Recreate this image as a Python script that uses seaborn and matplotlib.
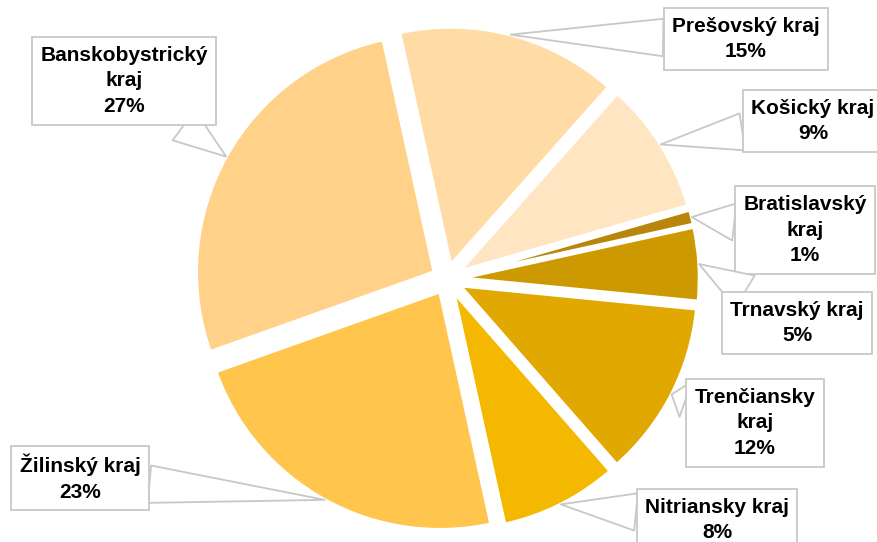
import matplotlib
matplotlib.use("Agg")
import matplotlib.pyplot as plt
import seaborn as sns
import numpy as np

# ---- data ----
regions = ["Bratislavský kraj", "Trnavský kraj", "Trenčiansky kraj", "Nitriansky kraj",
           "Žilinský kraj", "Banskobystrický kraj", "Prešovský kraj", "Košický kraj"]
shares = [1, 5, 12, 8, 23, 27, 15, 9]
label_texts = ["Bratislavský\nkraj\n1%", "Trnavský kraj\n5%", "Trenčiansky\nkraj\n12%",
               "Nitriansky kraj\n8%", "Žilinský kraj\n23%", "Banskobystrický\nkraj\n27%",
               "Prešovský kraj\n15%", "Košický kraj\n9%"]
colors = ["#B8860B", "#CC9A00", "#E0A800", "#F5B800",
          "#FFC54D", "#FFD189", "#FFDCA5", "#FFE5C2"]

# ---- layout (pixel coordinates of the label boxes, image y measured from top) ----
W, H = 877, 542
label_pos = [(805, 230), (797, 323), (755, 423), (717, 520),
             (80, 478), (124, 81), (746, 39), (813, 121)]

sns.set_theme(style="white")
plt.rcParams["font.family"] = ["Liberation Sans", "DejaVu Sans"]

fig = plt.figure(figsize=(W / 100, H / 100), dpi=100)
ax = fig.add_axes([0, 0, 1, 1])

radius = 238
center = (447, H - 279)
wedges, _ = ax.pie(shares, colors=sns.color_palette(colors), startangle=16,
                   counterclock=False, explode=[14.5] * len(shares),
                   radius=radius, center=center,
                   wedgeprops=dict(edgecolor="white", linewidth=2.5))

ax.set_xlim(0, W)
ax.set_ylim(0, H)
ax.set_aspect("equal")
ax.axis("off")

for w, txt, (tx, ty) in zip(wedges, label_texts, label_pos):
    mid = np.deg2rad((w.theta1 + w.theta2) / 2)
    cx, cy = w.center
    tip = (cx + w.r * np.cos(mid), cy + w.r * np.sin(mid))
    ax.annotate(txt, xy=tip, xytext=(tx, H - ty), ha="center", va="center",
                fontsize=15, fontweight="bold", linespacing=1.45, color="black",
                bbox=dict(boxstyle="square,pad=0.4", fc="white", ec="#C8C8C8", lw=1.3),
                arrowprops=dict(arrowstyle="wedge,tail_width=1.8,shrink_factor=0.5",
                                fc="white", ec="#C8C8C8", lw=1.3, shrinkA=0, shrinkB=0),
                zorder=5)

fig.savefig("out.png", dpi=100)
